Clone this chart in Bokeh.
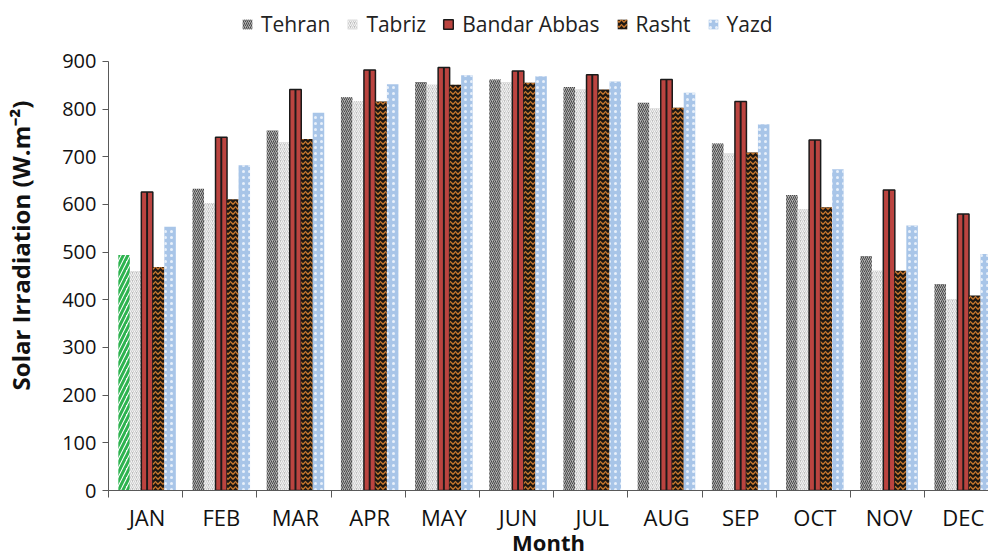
from bokeh.plotting import figure
from bokeh.models import FixedTicker, Legend, LegendItem, Range1d
from bokeh.embed import file_html
from bokeh.resources import INLINE

months = ["JAN", "FEB", "MAR", "APR", "MAY", "JUN", "JUL", "AUG", "SEP", "OCT", "NOV", "DEC"]
tehran = [494, 633, 755, 825, 857, 862, 846, 813, 728, 620, 492, 433]
tabriz = [460, 603, 731, 817, 851, 857, 841, 801, 707, 590, 461, 401]
bandar_abbas = [626, 741, 841, 882, 887, 880, 872, 862, 816, 735, 630, 580]
rasht = [469, 611, 737, 816, 851, 855, 841, 803, 709, 594, 461, 409]
yazd = [553, 682, 792, 852, 871, 869, 858, 834, 768, 674, 556, 496]
y_ticks = [0, 100, 200, 300, 400, 500, 600, 700, 800, 900]

FONT = "Open Sans"
TXT = "#111111"
AX = "#595959"
W = 0.155
centers = [i + 0.52 for i in range(len(months))]

def xs(k):
    return [c + (k - 2) * W for c in centers]

# frame spans the full top so the legend can sit above the 900 line
Y_TOP = 900 * 491 / 430
p = figure(width=988, height=559, output_backend="svg", toolbar_location=None,
           x_range=Range1d(0, 11.86), y_range=Range1d(0, Y_TOP),
           min_border_left=108, min_border_right=0, min_border_top=0, min_border_bottom=68)
p.outline_line_color = None
p.xgrid.visible = False
p.ygrid.visible = False

r_teh = p.vbar(x=xs(0)[1:], top=tehran[1:], width=W, fill_color="#b0b0b0", line_color=None,
               hatch_pattern="/", hatch_color="#3c3c3c", hatch_scale=4, hatch_weight=0.9)
p.vbar(x=xs(0)[:1], top=tehran[:1], width=W, fill_color="white", line_color=None,
       hatch_pattern="/", hatch_color="#2db34f", hatch_scale=9, hatch_weight=3)
r_tab = p.vbar(x=xs(1), top=tabriz, width=W, fill_color="#bcbcbc", line_color=None,
               hatch_pattern="/", hatch_color="#f4f4f4", hatch_scale=4, hatch_weight=1.2)
r_ban = p.vbar(x=xs(2), top=bandar_abbas, width=W, fill_color="#bb4440", line_color="#1a1a1a",
               line_width=1.5)
p.vbar(x=xs(2), top=bandar_abbas, width=0.026, fill_color="#1a1a1a", line_color=None)
r_ras = p.vbar(x=xs(3), top=rasht, width=W, fill_color="#1e1813", line_color=None,
               hatch_pattern="v", hatch_color="#c8772c", hatch_scale=5, hatch_weight=1.3)
r_yaz = p.vbar(x=xs(4), top=yazd, width=W, fill_color="#a8c5e8", line_color=None,
               hatch_pattern=".", hatch_color="#e8f0fa", hatch_scale=6, hatch_weight=1)

p.yaxis.ticker = FixedTicker(ticks=y_ticks)
p.yaxis.bounds = (0, 900)
p.yaxis.axis_label = "Solar Irradiation (W.m⁻²)"
p.yaxis.axis_label_text_font = FONT
p.yaxis.axis_label_text_font_style = "bold"
p.yaxis.axis_label_text_font_size = "24px"
p.yaxis.axis_label_text_color = TXT
p.yaxis.axis_label_standoff = 22
p.yaxis.major_label_text_font = FONT
p.yaxis.major_label_text_font_size = "20px"
p.yaxis.major_label_text_color = TXT
p.yaxis.major_label_standoff = 6
p.yaxis.major_tick_out = 6
p.yaxis.major_tick_in = 0
p.yaxis.minor_tick_line_color = None
p.yaxis.axis_line_color = AX
p.yaxis.major_tick_line_color = AX

p.xaxis.ticker = FixedTicker(ticks=centers, minor_ticks=list(range(0, 12)))
p.xaxis.major_label_overrides = {c: m for c, m in zip(centers, months)}
p.xaxis.major_tick_line_color = None
p.xaxis.major_tick_out = 0
p.xaxis.major_tick_in = 0
p.xaxis.minor_tick_out = 7
p.xaxis.minor_tick_in = 0
p.xaxis.minor_tick_line_color = AX
p.xaxis.axis_line_color = AX
p.xaxis.major_label_text_font = FONT
p.xaxis.major_label_text_font_size = "22px"
p.xaxis.major_label_text_color = TXT
p.xaxis.major_label_standoff = 4
p.xaxis.axis_label = "Month"
p.xaxis.axis_label_text_font = FONT
p.xaxis.axis_label_text_font_style = "bold"
p.xaxis.axis_label_text_font_size = "22px"
p.xaxis.axis_label_text_color = TXT
p.xaxis.axis_label_standoff = -8

legend = Legend(items=[
    LegendItem(label="Tehran", renderers=[r_teh]),
    LegendItem(label="Tabriz", renderers=[r_tab]),
    LegendItem(label="Bandar Abbas", renderers=[r_ban]),
    LegendItem(label="Rasht", renderers=[r_ras]),
    LegendItem(label="Yazd", renderers=[r_yaz]),
], orientation="horizontal", location=(133, 452))
legend.border_line_color = None
legend.background_fill_alpha = 0
legend.padding = 0
legend.margin = 0
legend.spacing = 16
legend.glyph_width = 12
legend.glyph_height = 12
legend.label_standoff = 8
legend.label_text_font = FONT
legend.label_text_font_size = "21px"
legend.label_text_color = "#222222"
p.add_layout(legend, "center")

open("out.html", "w").write(file_html(p, INLINE))
